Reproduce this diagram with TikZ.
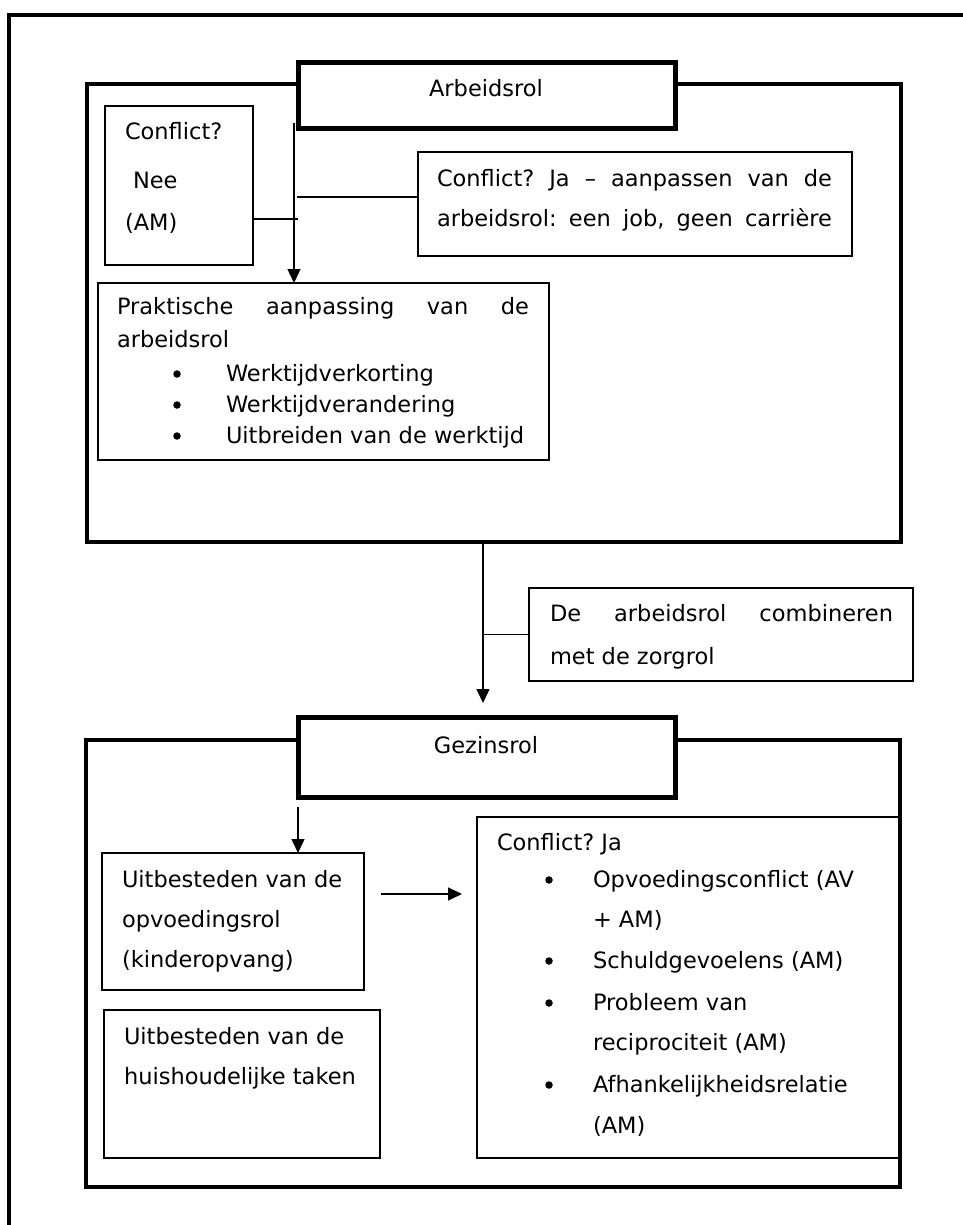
\documentclass[tikz,border=0pt]{standalone}
\usepackage{fontspec}
\setmainfont{DejaVu Sans}
\usetikzlibrary{arrows.meta}

\newcommand{\jline}[2]{\makebox[#1][s]{#2}}

\begin{document}
\frenchspacing
\begin{tikzpicture}[x=1pt,y=-1pt,
  every node/.style={font=\fontsize{22.5}{40}\selectfont, inner sep=0pt, outer sep=0pt},
  heavy/.style={draw, line width=4pt},
  header/.style={draw, line width=5pt, fill=white},
  box/.style={draw, line width=1.4pt, fill=white},
  conn/.style={line width=1.4pt},
  arr/.style={conn, -{Triangle[length=14pt,width=13pt]}},
  txt/.style={anchor=base west},
  dot/.style={circle, fill=black, minimum size=7.5pt},
]
\useasboundingbox (0,0) rectangle (962,1225);

% page frame (open to the right and below)
\draw[line width=4pt] (9,1240) -- (9,15) -- (975,15);

% ---------------- Arbeidsrol ----------------
\node[heavy, anchor=north west, minimum width=814pt, minimum height=458pt] (arbeid) at (87,84) {};
\node[header, anchor=north west, minimum width=377pt, minimum height=66pt] (hdrA) at (298,63) {};
\node[anchor=base] (hdrAtxt) at (486,97) {Arbeidsrol};

\node[box, anchor=north west, minimum width=148pt, minimum height=159pt] (nee) at (105,106) {};
\node[txt] (nee1) at (125,140) {Conflict?};
\node[txt] (nee2) at (133,189) {Nee};
\node[txt] (nee3) at (125,230) {(AM)};

\node[box, anchor=north west, minimum width=434pt, minimum height=104pt] (ja) at (418,152) {};
\node[txt] (ja1) at (437,186) {\jline{395pt}{Conflict? Ja – aanpassen van de}};
\node[txt] (ja2) at (437,226) {\jline{395pt}{arbeidsrol: een job, geen carrière}};

\node[box, anchor=north west, minimum width=451pt, minimum height=177pt] (prak) at (98,283) {};
\node[txt] (prak1) at (117,314) {\jline{412pt}{Praktische aanpassing van de}};
\node[txt] (prak2) at (117,347) {arbeidsrol};
\node[dot] (b1) at (177,374) {};
\node[txt] (prak3) at (226,381) {Werktijdverkorting};
\node[dot] (b2) at (177,405) {};
\node[txt] (prak4) at (226,412) {Werktijdverandering};
\node[dot] (b3) at (177,436) {};
\node[txt] (prak5) at (226,443) {Uitbreiden van de werktijd};

\coordinate (splitA) at (294,123);
\coordinate (neeEnd) at (298,219);
\coordinate (jaStart) at (297,197);
\draw[arr] (splitA) -- (splitA |- prak.north);
\draw[conn] (nee.east |- neeEnd) -- (neeEnd);
\draw[conn] (jaStart) -- (jaStart -| ja.west);

% ---------------- transition ----------------
\coordinate (down0) at (483,542);
\coordinate (down1) at (483,703);
\node[box, anchor=north west, minimum width=384pt, minimum height=93pt] (comb) at (529,588) {};
\node[txt] (comb1) at (550,621) {\jline{343pt}{De arbeidsrol combineren}};
\node[txt] (comb2) at (550,664) {met de zorgrol};
\draw[arr] (down0) -- (down1);
\draw[conn] (down0 |- comb.west) -- (comb.west);

% ---------------- Gezinsrol ----------------
\node[box, anchor=north west, minimum width=422pt, minimum height=341pt] (conf) at (477,817) {};
\node[heavy, anchor=north west, minimum width=814pt, minimum height=447pt] (gezin) at (86,740) {};
\node[header, anchor=north west, minimum width=377pt, minimum height=80pt] (hdrG) at (298,717) {};
\node[anchor=base] (hdrGtxt) at (486,753) {Gezinsrol};

\node[txt] (conf0) at (497,850) {Conflict? Ja};
\node[dot] (c1) at (549,880) {};
\node[txt] (conf1) at (593,887) {Opvoedingsconflict (AV};
\node[txt] (conf2) at (593,927) {+ AM)};
\node[dot] (c2) at (549,961) {};
\node[txt] (conf3) at (593,968) {Schuldgevoelens (AM)};
\node[dot] (c3) at (549,1003) {};
\node[txt] (conf4) at (593,1010) {Probleem van};
\node[txt] (conf5) at (593,1050) {reciprociteit (AM)};
\node[dot] (c4) at (549,1085) {};
\node[txt] (conf6) at (593,1092) {Afhankelijkheidsrelatie};
\node[txt] (conf7) at (593,1133) {(AM)};

\node[box, anchor=north west, minimum width=262pt, minimum height=137pt] (uit) at (102,853) {};
\node[txt] (uit1) at (122,887) {Uitbesteden van de};
\node[txt] (uit2) at (122,927) {opvoedingsrol};
\node[txt] (uit3) at (122,967) {(kinderopvang)};

\node[box, anchor=north west, minimum width=276pt, minimum height=148pt] (huis) at (104,1010) {};
\node[txt] (huis1) at (124,1044) {Uitbesteden van de};
\node[txt] (huis2) at (124,1084) {huishoudelijke taken};

\coordinate (gz0) at (298,807);
\draw[arr] (gz0) -- (gz0 |- uit.north);
\coordinate (h0) at (381,894);
\coordinate (h1) at (462,894);
\draw[arr] (h0) -- (h1);
\end{tikzpicture}
\end{document}
